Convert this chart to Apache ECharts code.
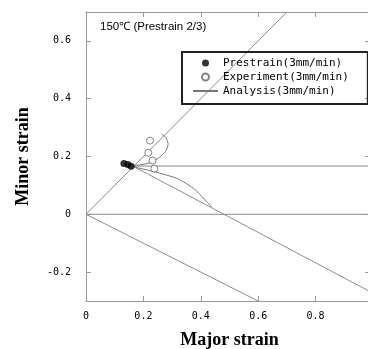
<!DOCTYPE html>
<html>
<head>
<meta charset="utf-8">
<script src="https://cdn.jsdelivr.net/npm/echarts@6/dist/echarts.min.js"></script>
<style>html,body{margin:0;padding:0;background:#fff}#c{width:368px;height:349px}</style>
</head>
<body>
<div id="c"></div>
<script>
// ---- data ----
var titleText = '150\u2103 (Prestrain 2/3)';
var xName = 'Major strain';
var yName = 'Minor strain';
var xTickValues = [0, 0.2, 0.4, 0.6, 0.8];
var xTickLabels = ['0', '0.2', '0.4', '0.6', '0.8'];
var yTickValues = [-0.2, 0, 0.2, 0.4, 0.6];
var yTickLabels = ['-0.2', '0', '0.2', '0.4', '0.6'];
var prestrainPts = [[0.132, 0.176], [0.146, 0.172], [0.157, 0.166]];
var experimentPts = [[0.223, 0.255], [0.217, 0.213], [0.232, 0.186], [0.238, 0.158]];
var analysisCurve = [[0.263, 0.278], [0.278, 0.266], [0.286, 0.244], [0.283, 0.229], [0.275, 0.215],
  [0.257, 0.198], [0.229, 0.180], [0.195, 0.172], [0.163, 0.167], [0.240, 0.147], [0.320, 0.123],
  [0.379, 0.086], [0.438, 0.025]];
var equiBiaxial = [[0, 0], [0.7, 0.7]];
var uniaxial = [[0, 0], [0.6, -0.3]];
var planeStrain = [[0, 0], [1, 0]];
var planeStrainPre = [[0.163, 0.167], [1, 0.167]];
var uniaxialPre = [[0.163, 0.167], [1, -0.273]];
var legendNames = ['Prestrain(3mm/min)', 'Experiment(3mm/min)', 'Analysis(3mm/min)'];

function labelFrom(values, labels) {
  return function (v) {
    for (var i = 0; i < values.length; i++) {
      if (Math.abs(values[i] - v) < 1e-6) return labels[i];
    }
    return '';
  };
}

var gray = '#8c8c8c';
var axisCol = '#999';
var tickFont = {fontFamily: 'DejaVu Sans Mono', fontSize: 10, color: '#000'};
var nameFont = {fontFamily: 'Liberation Serif', fontSize: 18, fontWeight: 'bold', color: '#000'};

function guide(data) {
  return {type: 'line', data: data, symbol: 'none', silent: true, z: 1,
    lineStyle: {color: gray, width: 1}};
}
function frameAxis(extra) {
  return Object.assign({
    type: 'value',
    axisLine: {show: true, onZero: false, lineStyle: {color: axisCol}},
    axisTick: {show: true, inside: true, length: 5, lineStyle: {color: axisCol}},
    splitLine: {show: false}
  }, extra);
}

var chart = echarts.init(document.getElementById('c'), null, {renderer: 'canvas'});
chart.setOption({
  animation: false,
  title: {text: titleText, left: 100, top: 21, padding: 0,
    textStyle: {fontFamily: 'Liberation Sans', fontSize: 11.5, fontWeight: 'normal', color: '#000'}},
  grid: {left: 86, top: 12, right: -5, bottom: 48, containLabel: false, outerBoundsMode: 'none'},
  legend: {
    orient: 'vertical', left: 182, top: 52, padding: [4, 19, 6, 10], itemGap: 0,
    itemWidth: 25, itemHeight: 7, borderColor: '#222', borderWidth: 2, borderRadius: 0,
    textStyle: {fontFamily: 'DejaVu Sans Mono', fontSize: 11, color: '#000', lineHeight: 14},
    data: [
      {name: legendNames[0], icon: 'circle'},
      {name: legendNames[1], icon: 'circle'},
      {name: legendNames[2], itemStyle: {opacity: 0}}
    ]
  },
  xAxis: [
    frameAxis({min: 0, max: 1, interval: 0.2, position: 'bottom',
      axisLabel: Object.assign({margin: 10, formatter: labelFrom(xTickValues, xTickLabels)}, tickFont),
      name: xName, nameLocation: 'middle', nameGap: 30, nameTextStyle: nameFont}),
    frameAxis({min: 0, max: 1, interval: 0.2, position: 'top', axisLabel: {show: false}})
  ],
  yAxis: [
    frameAxis({min: -0.3, max: 0.7, splitNumber: 5, position: 'left',
      axisLabel: Object.assign({margin: 15, formatter: labelFrom(yTickValues, yTickLabels)}, tickFont),
      name: yName, nameLocation: 'middle', nameGap: 54, nameRotate: 90, nameTextStyle: nameFont}),
    frameAxis({min: -0.3, max: 0.7, splitNumber: 5, position: 'right', axisLabel: {show: false},
      axisTick: {show: true, inside: true, length: 8, lineStyle: {color: axisCol}}})
  ],
  series: [
    guide(equiBiaxial), guide(uniaxial), guide(planeStrain), guide(planeStrainPre), guide(uniaxialPre),
    {name: legendNames[2], type: 'line', data: analysisCurve, symbol: 'none', smooth: 0.2, z: 2,
      lineStyle: {color: '#777', width: 1}, itemStyle: {color: '#777'}},
    {name: legendNames[1], type: 'scatter', data: experimentPts, symbol: 'circle', symbolSize: 7, z: 3,
      itemStyle: {color: '#fff', borderColor: '#666', borderWidth: 1}},
    {name: legendNames[0], type: 'scatter', data: prestrainPts, symbol: 'circle', symbolSize: 7, z: 4,
      itemStyle: {color: '#000'}}
  ]
});
</script>
</body>
</html>
